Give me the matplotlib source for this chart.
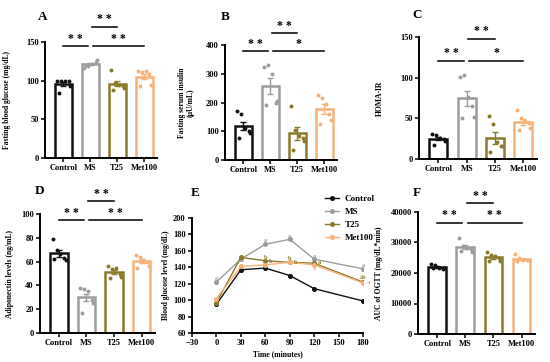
import numpy as np
import matplotlib
matplotlib.use("Agg")
import matplotlib.pyplot as plt

plt.rcParams['font.family'] = ['Liberation Serif', 'DejaVu Serif']
plt.rcParams['font.weight'] = 'bold'
plt.rcParams['axes.labelweight'] = 'bold'

groups = ['Control', 'MS', 'T25', 'Met100']
colors = ['#111111', '#9d9d9d', '#8a7a2c', '#f5b27a']

# individual animals per group
glucose = [[99, 99, 100, 100, 93, 84],
           [117, 119, 121, 124, 127, 120],
           [114, 97, 95, 93, 91, 88],
           [112, 111, 112, 108, 95, 93]]
insulin = [[170, 160, 110, 100, 95, 75],
           [325, 330, 300, 200, 205, 190],
           [189, 105, 85, 75, 65, 35],
           [225, 215, 195, 160, 140, 125]]
homa = [[31, 29, 26, 25, 22, 17],
        [101, 103, 76, 65, 52, 50],
        [53, 43, 21, 16, 16, 8],
        [60, 50, 47, 44, 38, 36]]
adipo = [[79, 70, 66, 63, 61, 62],
         [37.5, 37, 35, 27.5, 25, 17],
         [56, 54, 55, 50, 47, 46],
         [65.5, 64, 61, 60, 56, 55]]
auc = [[23000, 22500, 21500, 21400, 21600, 21800],
       [31500, 29000, 28300, 27800, 27000, 27300],
       [26800, 26000, 25500, 25000, 24000, 23800],
       [26300, 25000, 24300, 24200, 24200, 24000]]

time = [0, 30, 60, 90, 120, 180]
ogtt = {'Control': [95, 137, 139, 130, 114, 99],
        'MS': [122, 150, 168, 174, 150, 138],
        'T25': [97, 152, 148, 146, 145, 122],
        'Met100': [102, 141, 143, 146, 143, 121]}

W, H = 550, 362
fig = plt.figure(figsize=(W / 100, H / 100), dpi=100)


def box(l, t, r, b):
    return [l / W, 1 - b / H, (r - l) / W, (b - t) / H]


def style(ax):
    for s in ['top', 'right']:
        ax.spines[s].set_visible(False)
    for s in ['left', 'bottom']:
        ax.spines[s].set_linewidth(1.4)
    ax.tick_params(labelsize=6, width=1.1, length=3, pad=1.5)
    for t in ax.get_xticklabels() + ax.get_yticklabels():
        t.set_fontweight('bold')


offs = [-0.22, -0.08, 0.06, 0.2, 0.25, -0.16]


def bar_panel(pos, data, ymax, yticks, ylabel, letter, lpos, sig, ylab_x):
    ax = fig.add_axes(box(*pos))
    x = np.arange(4)
    for i, vals in enumerate(data):
        v = np.array(vals, float)
        m = v.mean()
        se = v.std(ddof=1) / np.sqrt(len(v))
        ax.bar(i, m, width=0.63, color='white', edgecolor=colors[i], linewidth=1.8, zorder=2)
        ax.errorbar(i, m, yerr=se, color=colors[i], capsize=2.5, elinewidth=1, capthick=1, zorder=3)
        ax.scatter(i + np.array(offs[:len(v)]), v, s=8, color=colors[i], zorder=4, linewidths=0)
    ax.set_xlim(-0.68, 3.48)
    ax.set_ylim(0, ymax)
    ax.set_yticks(yticks)
    ax.set_xticks(x)
    ax.set_xticklabels(groups)
    ax.set_ylabel(ylabel, fontsize=5.5)
    ax.yaxis.set_label_coords(ylab_x, 0.5)
    style(ax)
    for (x1, x2, yv, txt) in sig:
        ax.plot([x1, x2], [yv, yv], color='black', lw=1.1, clip_on=False)
        ax.text((x1 + x2) / 2, yv + ymax * 0.01, ' '.join(txt), ha='center', va='bottom',
                fontsize=8.5, fontweight='bold', clip_on=False)
    fig.text(lpos[0] / W, 1 - lpos[1] / H, letter, fontsize=9.5, fontweight='bold',
             ha='center', va='center')
    return ax


bar_panel((45, 42, 157, 158), glucose, 150, [0, 50, 100, 150],
          'Fasting blood glucose (mg/dL)', 'A', (43, 17),
          [(0, 0.9, 145, '**'), (1.1, 3, 145, '**'), (1.05, 2, 170, '**')], -0.3)
bar_panel((225, 45, 337, 160), insulin, 400, [0, 100, 200, 300, 400],
          'Fasting serum insulin\n(\u03bcU/mL)', 'B', (225, 17),
          [(0, 0.9, 378, '**'), (1.1, 3, 378, '*'), (1.05, 2, 440, '**')], -0.27)
bar_panel((419, 37, 537, 159), homa, 150, [0, 50, 100, 150],
          'HOMA-IR', 'C', (417, 15),
          [(0, 0.9, 121, '**'), (1.1, 3, 121, '*'), (1.05, 2, 148, '**')], -0.3)
bar_panel((40, 214, 155, 333), adipo, 100, [0, 20, 40, 60, 80, 100],
          'Adiponectin levels (ng/mL)', 'D', (40, 191),
          [(0, 0.9, 95, '**'), (1.1, 3, 95, '**'), (1.05, 2, 111, '**')], -0.23)
bar_panel((418, 212, 535, 334), auc, 40000, [0, 10000, 20000, 30000, 40000],
          'AUC of OGTT (mg/dL*min)', 'F', (417, 193),
          [(0, 0.9, 36500, '**'), (1.1, 3, 36500, '**'), (1.05, 2, 43000, '**')], -0.3)

# panel E: OGTT curves
ax = fig.add_axes(box(192, 218, 363, 333))
for g, c in zip(groups, colors):
    ax.plot(time, ogtt[g], color=c, marker='o', ms=2.6, lw=1, label=g)
ax.set_xlim(-30, 180)
ax.set_ylim(60, 200)
ax.set_xticks([-30, 0, 30, 60, 90, 120, 150, 180])
ax.set_yticks(np.arange(60, 201, 20))
ax.set_xlabel('Time (minutes)', fontsize=5.5, labelpad=2)
ax.set_ylabel('Blood glucose level (mg/dL)', fontsize=5.5)
ax.yaxis.set_label_coords(-0.13, 0.5)
style(ax)
letters = [(0, 126, 'a', colors[1]),
           (60, 172, 'a', colors[1]), (60, 152, 'b', colors[2]), (67, 147, 'b', colors[2]),
           (90, 178, 'a', colors[1]), (90, 151, 'b', colors[2]), (97, 146, 'b', colors[2]),
           (120, 153, 'a', colors[1]), (127, 146, 'a', colors[2]), (120, 139, 'a', colors[3]),
           (180, 142, 'a', colors[1]), (180, 127, 'ab', colors[2]), (187, 121, 'a', colors[3])]
for xx, yy, t, c in letters:
    ax.text(xx, yy, t, fontsize=4.5, color=c, ha='center', va='center', clip_on=False)
leg = ax.legend(loc='upper left', bbox_to_anchor=(325 / W, 1 - 195 / H),
                bbox_transform=fig.transFigure, frameon=False,
                handlelength=1.6, handletextpad=0.6, labelspacing=0.5,
                borderpad=0, borderaxespad=0, prop={'weight': 'bold', 'size': 6.5})
fig.text(195 / W, 1 - 193 / H, 'E', fontsize=9.5, fontweight='bold', ha='center', va='center')

fig.savefig('out.png', dpi=100)
